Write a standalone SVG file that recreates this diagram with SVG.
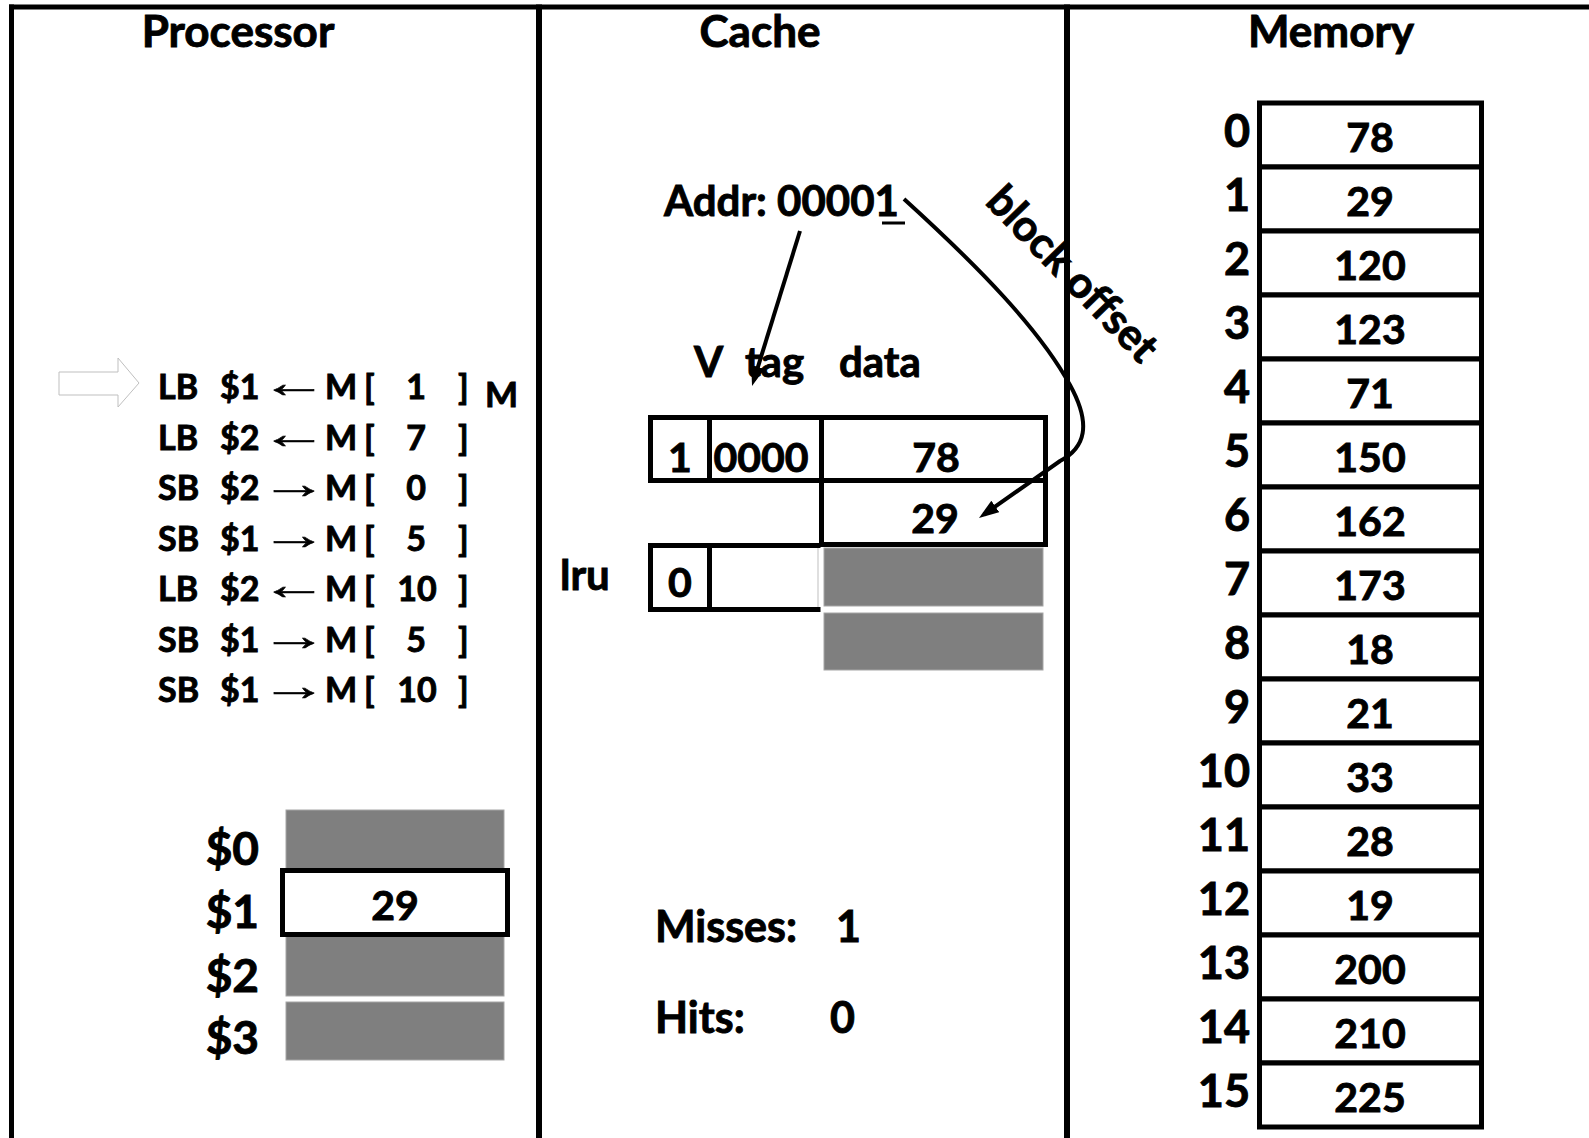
<svg xmlns="http://www.w3.org/2000/svg" width="1589" height="1138" viewBox="0 0 1589 1138">
<defs>
<style>
text{font-family:Lato,"Open Sans","Liberation Sans",sans-serif;font-weight:bold;fill:#000;stroke:#000;stroke-width:0.9px}
.title{font-size:44px;text-anchor:middle}
.ins{font-size:34px}
.num{text-anchor:middle}
.arr{font-family:"Liberation Serif",serif;font-weight:normal;font-size:42px;stroke-width:0.6px}
.cell{fill:#fff;stroke:#000;stroke-width:5}
.gray{fill:#7f7f7f;stroke:#a6a6a6;stroke-width:1}
.idx{font-size:45px;text-anchor:end}
.val{font-size:41px;text-anchor:middle}
.lbl{font-size:42px}
.reg{font-size:46px;text-anchor:end}
.conn{fill:none;stroke:#000;stroke-width:4}
</style>
<marker id="ah" viewBox="0 0 20 14" refX="14" refY="7" markerWidth="20" markerHeight="14" markerUnits="userSpaceOnUse" orient="auto">
<path d="M0,0 L20,7 L0,14 z" fill="#000"/>
</marker>
</defs>
<rect width="1589" height="1138" fill="#fff"/>

<g id="frame" fill="none" stroke="#000">
<line x1="9" y1="7" x2="1589" y2="7" stroke-width="5"/>
<line x1="11.5" y1="4.5" x2="11.5" y2="1138" stroke-width="5"/>
<line x1="539" y1="4.5" x2="539" y2="1138" stroke-width="6"/>
<line x1="1067" y1="4.5" x2="1067" y2="1138" stroke-width="6"/>
</g>

<g id="titles">
<text class="title" x="238" y="47">Processor</text>
<text class="title" x="760" y="47">Cache</text>
<text class="title" x="1331" y="47">Memory</text>
</g>

<g id="pc-pointer">
<path d="M59,372 L118,372 L118,358 L139,383 L118,407 L118,395 L59,395 z" fill="#fff" stroke="#bfbfbf" stroke-width="1"/>
</g>

<g id="instructions" class="ins">
<g id="ins1"><text x="158" y="399">LB</text><text x="220" y="399">$1</text><text class="arr" transform="translate(260,397) scale(1.6,1)">←</text><text x="325" y="399">M</text><text x="364" y="399">[</text><text class="num" x="416" y="399">1</text><text x="458" y="399">]</text></g>
<g id="ins2"><text x="158" y="450">LB</text><text x="220" y="450">$2</text><text class="arr" transform="translate(260,448) scale(1.6,1)">←</text><text x="325" y="450">M</text><text x="364" y="450">[</text><text class="num" x="416" y="450">7</text><text x="458" y="450">]</text></g>
<g id="ins3"><text x="158" y="500">SB</text><text x="220" y="500">$2</text><text class="arr" transform="translate(260,498) scale(1.6,1)">→</text><text x="325" y="500">M</text><text x="364" y="500">[</text><text class="num" x="416" y="500">0</text><text x="458" y="500">]</text></g>
<g id="ins4"><text x="158" y="551">SB</text><text x="220" y="551">$1</text><text class="arr" transform="translate(260,549) scale(1.6,1)">→</text><text x="325" y="551">M</text><text x="364" y="551">[</text><text class="num" x="416" y="551">5</text><text x="458" y="551">]</text></g>
<g id="ins5"><text x="158" y="601">LB</text><text x="220" y="601">$2</text><text class="arr" transform="translate(260,599) scale(1.6,1)">←</text><text x="325" y="601">M</text><text x="364" y="601">[</text><text class="num" x="417" y="601">10</text><text x="458" y="601">]</text></g>
<g id="ins6"><text x="158" y="652">SB</text><text x="220" y="652">$1</text><text class="arr" transform="translate(260,650) scale(1.6,1)">→</text><text x="325" y="652">M</text><text x="364" y="652">[</text><text class="num" x="416" y="652">5</text><text x="458" y="652">]</text></g>
<g id="ins7"><text x="158" y="702">SB</text><text x="220" y="702">$1</text><text class="arr" transform="translate(260,700) scale(1.6,1)">→</text><text x="325" y="702">M</text><text x="364" y="702">[</text><text class="num" x="417" y="702">10</text><text x="458" y="702">]</text></g>
<text x="485" y="407" style="font-size:35px">M</text>
</g>

<g id="registers">
<rect class="gray" x="286" y="810" width="218" height="60"/>
<rect class="gray" x="286" y="936" width="218" height="60"/>
<rect class="gray" x="286" y="1002" width="218" height="58"/>
<rect class="cell" x="282.5" y="870.5" width="225" height="64"/>
<text class="val" x="395" y="920">29</text>
<text class="reg" x="259" y="865">$0</text>
<text class="reg" x="259" y="928">$1</text>
<text class="reg" x="259" y="992">$2</text>
<text class="reg" x="259" y="1054">$3</text>
</g>

<g id="addr">
<text x="664" y="216" style="font-size:42px">Addr: 00001</text>
<rect x="882" y="221.5" width="23" height="3" fill="#000"/>
</g>

<g id="block-offset-label">
<text x="984" y="203" transform="rotate(46 984 203)" style="font-size:43px">block offset</text>
</g>

<g id="cache-header" class="lbl">
<text x="694" y="377">V</text>
<text x="745" y="377">tag</text>
<text x="839" y="377">data</text>
</g>

<g id="cache-line0">
<rect class="cell" x="650.5" y="417.5" width="59" height="63"/>
<rect class="cell" x="709.5" y="417.5" width="112" height="63"/>
<rect class="cell" x="821.5" y="417.5" width="224" height="63"/>
<rect class="cell" x="821.5" y="480.5" width="224" height="64"/>
<text class="val" x="680" y="472">1</text>
<text class="val" x="761" y="472">0000</text>
<text class="val" x="936" y="472">78</text>
<text class="val" x="935" y="533">29</text>
</g>

<g id="cache-line1">
<rect class="gray" x="824" y="548" width="219" height="58"/>
<rect class="gray" x="824" y="613" width="219" height="57"/>
<line x1="818" y1="545.5" x2="818" y2="609.5" stroke="#bfbfbf" stroke-width="1"/>
<path d="M709.5,545.5 H820.5 M709.5,609.5 H820.5" fill="none" stroke="#000" stroke-width="5"/>
<rect class="cell" x="650.5" y="545.5" width="59" height="64"/>
<text class="val" x="680" y="597">0</text>
<text class="lbl" x="560" y="590">lru</text>
</g>

<g id="stats">
<text x="655" y="942" style="font-size:43px">Misses:</text>
<text x="836" y="942" style="font-size:43px">1</text>
<text x="655" y="1033" style="font-size:43px">Hits:</text>
<text x="830" y="1033" style="font-size:43px">0</text>
</g>

<g id="memory">
<g id="m0"><rect class="cell" x="1259.5" y="103" width="222" height="64"/><text class="idx" x="1250" y="147">0</text><text class="val" x="1370" y="152">78</text></g>
<g id="m1"><rect class="cell" x="1259.5" y="167" width="222" height="64"/><text class="idx" x="1250" y="211">1</text><text class="val" x="1370" y="216">29</text></g>
<g id="m2"><rect class="cell" x="1259.5" y="231" width="222" height="64"/><text class="idx" x="1250" y="275">2</text><text class="val" x="1370" y="280">120</text></g>
<g id="m3"><rect class="cell" x="1259.5" y="295" width="222" height="64"/><text class="idx" x="1250" y="339">3</text><text class="val" x="1370" y="344">123</text></g>
<g id="m4"><rect class="cell" x="1259.5" y="359" width="222" height="64"/><text class="idx" x="1250" y="403">4</text><text class="val" x="1370" y="408">71</text></g>
<g id="m5"><rect class="cell" x="1259.5" y="423" width="222" height="64"/><text class="idx" x="1250" y="467">5</text><text class="val" x="1370" y="472">150</text></g>
<g id="m6"><rect class="cell" x="1259.5" y="487" width="222" height="64"/><text class="idx" x="1250" y="531">6</text><text class="val" x="1370" y="536">162</text></g>
<g id="m7"><rect class="cell" x="1259.5" y="551" width="222" height="64"/><text class="idx" x="1250" y="595">7</text><text class="val" x="1370" y="600">173</text></g>
<g id="m8"><rect class="cell" x="1259.5" y="615" width="222" height="64"/><text class="idx" x="1250" y="659">8</text><text class="val" x="1370" y="664">18</text></g>
<g id="m9"><rect class="cell" x="1259.5" y="679" width="222" height="64"/><text class="idx" x="1250" y="723">9</text><text class="val" x="1370" y="728">21</text></g>
<g id="m10"><rect class="cell" x="1259.5" y="743" width="222" height="64"/><text class="idx" x="1250" y="787">10</text><text class="val" x="1370" y="792">33</text></g>
<g id="m11"><rect class="cell" x="1259.5" y="807" width="222" height="64"/><text class="idx" x="1250" y="851">11</text><text class="val" x="1370" y="856">28</text></g>
<g id="m12"><rect class="cell" x="1259.5" y="871" width="222" height="64"/><text class="idx" x="1250" y="915">12</text><text class="val" x="1370" y="920">19</text></g>
<g id="m13"><rect class="cell" x="1259.5" y="935" width="222" height="64"/><text class="idx" x="1250" y="979">13</text><text class="val" x="1370" y="984">200</text></g>
<g id="m14"><rect class="cell" x="1259.5" y="999" width="222" height="64"/><text class="idx" x="1250" y="1043">14</text><text class="val" x="1370" y="1048">210</text></g>
<g id="m15"><rect class="cell" x="1259.5" y="1063" width="222" height="64"/><text class="idx" x="1250" y="1107">15</text><text class="val" x="1370" y="1112">225</text></g>
</g>

<g id="connectors">
<path class="conn" d="M800,231 L753.8,380.3" marker-end="url(#ah)"/>
<path class="conn" d="M904,199 C980,268 1040,330 1070,385 C1092,425 1085,448 1060,461 L983.9,514.5" marker-end="url(#ah)"/>
</g>
</svg>
